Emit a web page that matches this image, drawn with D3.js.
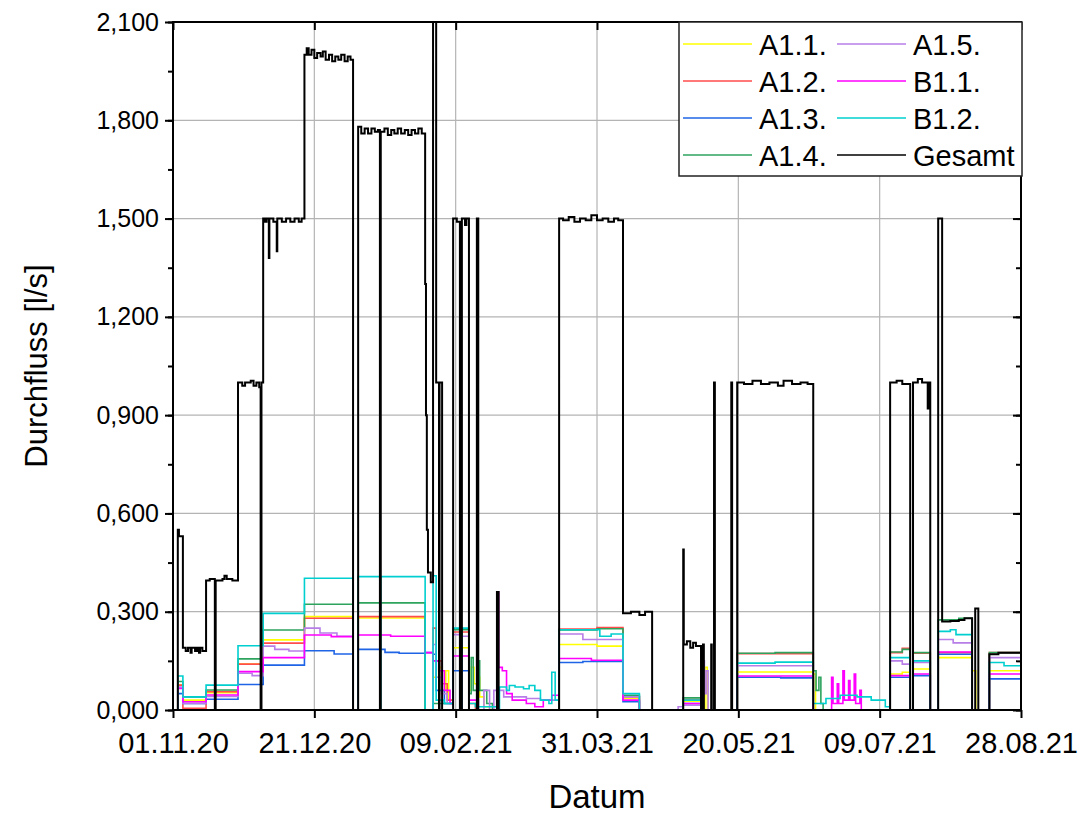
<!DOCTYPE html>
<html>
<head>
<meta charset="utf-8">
<script src="https://cdn.jsdelivr.net/npm/d3@7"></script>
<style>
  body { margin: 0; background: #fff; }
  svg text { font-family: "Liberation Sans", Arial, sans-serif; fill: #000; }
</style>
</head>
<body>
<div id="chart"></div>
<script>
// Days since 01.11.20 and flow values [l/s], stepwise
const startDate = new Date(2020, 10, 1);
const xTickDays = [0, 50, 100, 150, 200, 250, 300];
const yTicks = [0, 0.3, 0.6, 0.9, 1.2, 1.5, 1.8, 2.1];

const seriesNames = ["A1.1.", "A1.2.", "A1.3.", "A1.4.", "A1.5.", "B1.1.", "B1.2.", "Gesamt"];
const seriesColors = ["#ffff00", "#ff4d4d", "#1f64e6", "#2ea35e", "#b87ee8", "#ff00ff", "#00cfcf", "#000000"];

const a11 = [[0,0],[1.7,0.076],[3.5,0.03],[11.7,0.053],[23.0,0.14],[31.9,0.214],[46.5,0.285],[63.7,0],[65.5,0.281],[89.2,0],[92,0.1],[94,0.13],[95,0.06],[96.5,0.12],[97.5,0.03],[99.1,0.19],[101.5,0],[102.2,0.19],[104.7,0.06],[105.5,0.13],[106.5,0.08],[107.5,0.1],[108.5,0.04],[110,0.01],[112,0],[136.6,0.2],[150,0.195],[159.2,0.035],[165,0],[180.5,0.027],[186.8,0],[188.2,0.13],[189,0],[199.6,0.116],[226.5,0.11],[227.3,0],[253.7,0.11],[258,0.115],[260.8,0],[261.8,0.125],[267.9,0],[270.7,0.16],[282.7,0.12],[284,0],[288.8,0.12],[300,0.12]];
const a12 = [[0,0],[1.7,0.076],[3.5,0.005],[11.7,0.056],[23.0,0.14],[31.9,0.204],[46.5,0.28],[63.7,0],[65.5,0.285],[89.2,0],[92,0.25],[93.1,0.15],[95,0.08],[97,0.03],[99.1,0.238],[101.5,0],[102.2,0.238],[104.7,0.02],[107,0],[136.6,0.247],[150,0.252],[159.2,0.04],[165,0],[180.5,0.032],[186.8,0],[199.6,0.172],[226.5,0],[253.7,0.175],[258,0.188],[260.8,0],[261.8,0.173],[267.9,0],[270.7,0.175],[282.7,0],[288.8,0.175],[300,0.175]];
const a13 = [[0,0],[1.7,0.05],[3.5,0.02],[11.7,0.033],[23.0,0.078],[31.9,0.137],[46.5,0.181],[57,0.171],[63.7,0],[65.5,0.185],[75,0.176],[80,0.173],[89.2,0.175],[92,0.17],[93.1,0.06],[96,0.02],[99.1,0.12],[101.5,0],[102.2,0.12],[104.7,0],[136.6,0.145],[145,0.148],[159.2,0.025],[165,0],[180.5,0.02],[186.8,0],[199.6,0.1],[215,0.098],[226.5,0],[253.7,0.1],[260.8,0],[261.8,0.105],[267.9,0],[270.7,0.17],[282.7,0],[288.8,0.095],[300,0.095]];
const a14 = [[0,0],[1.7,0.087],[3.5,0.04],[11.7,0.061],[23.0,0.156],[31.9,0.244],[46.5,0.323],[63.7,0],[65.5,0.327],[89.2,0],[92,0.02],[99.1,0.245],[101.5,0],[102.2,0.245],[104.7,0.05],[105.5,0.16],[106.2,0.06],[107.5,0.15],[108.5,0.06],[111,0.02],[113,0],[136.6,0.244],[150,0.248],[159.2,0.045],[165,0],[180.5,0.037],[186.8,0],[199.6,0.173],[213,0.175],[226.5,0.12],[227.5,0.06],[228.5,0.1],[229.2,0.02],[230,0],[253.7,0.177],[258,0.185],[260.8,0],[261.8,0.175],[267.9,0],[270.7,0.275],[278,0.28],[282.7,0],[288.8,0.175],[300,0.177]];
const a15 = [[0,0],[1.7,0.07],[3.5,0.02],[11.7,0.041],[23.0,0.112],[28,0.105],[31.9,0.195],[36,0.185],[41,0.18],[46.5,0.25],[52,0.235],[58,0.225],[63.7,0],[92,0.2],[93,0.1],[95,0.05],[97,0.02],[99.1,0.23],[101.5,0],[102.2,0.225],[104.7,0],[110,0.06],[112,0],[113.5,0.06],[117,0.04],[125,0.035],[130,0.03],[136.6,0.232],[145,0.215],[159.2,0.04],[165,0],[178.7,0.01],[180.5,0.015],[186.8,0.1],[187.4,0.15],[188,0.05],[188.6,0.12],[189.3,0],[199.6,0.135],[226.5,0],[253.7,0.15],[258,0.14],[260.8,0],[261.8,0.145],[267.9,0],[270.7,0.215],[276,0.205],[282.7,0],[288.8,0.16],[300,0.155]];
const b11 = [[0,0],[1.7,0.066],[3.5,0.025],[11.7,0.046],[23.0,0.117],[31.9,0.16],[46.5,0.229],[56,0.224],[63.7,0],[65.5,0.229],[77,0.225],[89.2,0.175],[92,0.15],[94,0.12],[96,0.06],[98,0.02],[99.1,0.165],[101.5,0],[102.2,0.165],[104.7,0.03],[108,0],[114.6,0.36],[115.2,0.13],[116.5,0.12],[118,0.05],[120,0.03],[125,0.02],[128,0.01],[131,0.03],[134,0.045],[136.6,0.157],[148,0.152],[159.2,0.03],[165,0],[180.5,0.02],[186.8,0],[199.6,0.104],[226.5,0],[233,0.1],[233.5,0.02],[235,0.08],[235.5,0.02],[237,0.12],[237.5,0.03],[239,0.09],[239.5,0.03],[241,0.11],[241.5,0.02],[243,0.06],[243.5,0],[253.7,0.105],[260.8,0],[261.8,0.11],[267.9,0],[270.7,0.177],[282.7,0],[288.8,0.11],[300,0.11]];
const b12 = [[0,0],[1.7,0.104],[3.5,0.04],[11.7,0.076],[23.0,0.196],[31.9,0.295],[46.5,0.402],[63.7,0],[65.5,0.407],[73.2,0],[73.5,0.407],[89.2,0],[92.0,0.41],[93.1,0.03],[96,0.02],[99.1,0.25],[101.5,0],[102.2,0.25],[104.7,0.02],[107,0.01],[114.6,0],[115.5,0.07],[118,0.06],[119,0.075],[121,0.07],[124,0.065],[126,0.075],[128,0.06],[130,0.03],[133,0.02],[134,0.115],[135.2,0.03],[136.6,0.245],[151,0.225],[155,0.232],[159.2,0.05],[165,0],[180.5,0.03],[186.8,0],[199.6,0.143],[213,0.146],[226.5,0.02],[231,0.035],[236,0.045],[242,0.04],[247,0.03],[252,0.01],[253.7,0.16],[260.8,0],[261.8,0.15],[267.9,0],[270.7,0.24],[275,0.245],[277,0.23],[282.7,0],[288.8,0.145],[294,0.135],[300,0.13]];
const gesamt = [[0,0],[1.7,0.55],[2.1,0.53],[3.5,0.19],[4.5,0.18],[5.3,0.19],[6.2,0.175],[6.6,0.19],[7.8,0.18],[8.5,0.19],[9.2,0.175],[9.6,0.19],[10.4,0.18],[11.7,0.395],[13,0.4],[14.8,0],[15.1,0.395],[17.5,0.4],[18.2,0.41],[19,0.4],[21,0.395],[23.0,1.0],[24.5,0.99],[25.5,1.0],[27.5,1.005],[28.5,0.99],[29.5,1.0],[30.5,0.985],[31.0,0],[31.3,1.0],[31.9,1.5],[32.6,1.49],[33.1,1.5],[33.9,1.38],[34.1,1.5],[35.5,1.49],[36.7,1.4],[36.9,1.5],[38.5,1.49],[40,1.5],[41.5,1.49],[43,1.5],[44.5,1.49],[45.5,1.5],[46.5,2.0],[47.3,2.02],[48,2.0],[49,2.015],[50,1.99],[51,2.005],[52.2,1.995],[53,2.01],[54,1.985],[55.2,2.0],[56.3,1.98],[57.4,1.995],[58.5,1.985],[59.5,2.0],[60.7,1.98],[61.8,1.995],[62.8,1.985],[63.7,0],[65.5,1.78],[66.6,1.76],[67.8,1.775],[69,1.76],[70.2,1.775],[71.4,1.765],[72.5,1.77],[73.2,0],[73.5,1.765],[74.8,1.775],[76,1.755],[77.2,1.77],[78.3,1.76],[79.5,1.775],[80.7,1.76],[82,1.77],[83.2,1.755],[84.4,1.77],[85.6,1.76],[86.8,1.775],[88,1.76],[89.2,1.3],[89.5,0.9],[89.8,0.55],[90.2,0.42],[91.2,0.39],[92.0,2.3],[93.1,1.0],[94.1,0],[94.3,1.0],[95.2,0],[99.1,1.5],[100.4,1.49],[101.5,0],[102.2,1.5],[103.3,1.48],[103.8,1.5],[104.7,0],[107.5,1.5],[108.0,0],[114.6,0.36],[115.2,0],[136.6,1.5],[138,1.495],[140,1.505],[142,1.49],[144,1.5],[146,1.495],[148,1.51],[150,1.495],[152,1.5],[154,1.49],[156,1.5],[157.5,1.495],[159.2,0.295],[162,0.3],[165,0.29],[167,0.3],[169.5,0],[180.5,0.49],[180.7,0.2],[181.8,0.21],[183,0.19],[184,0.205],[185,0.195],[186.8,0],[187.5,0.2],[187.8,0],[190.4,0.2],[190.6,0],[191.4,1.0],[191.7,0],[197.5,1.0],[197.8,0],[199.6,1.0],[202,0.995],[205,1.005],[208,0.995],[211,1.0],[214,0.99],[216,1.005],[219,0.995],[222,1.0],[224.5,0.995],[226.5,0],[253.7,1.0],[256,1.005],[258,0.995],[260.8,0],[261.8,1.0],[263.5,1.01],[265,1.0],[267.0,0.92],[267.2,1.0],[267.9,0],[270.7,1.5],[272.1,0.27],[275,0.272],[278,0.275],[280,0.28],[282.7,0],[283.8,0.31],[284.9,0],[288.8,0.17],[292,0.175],[296,0.175],[300,0.175]];

const allSeries = [a11, a12, a13, a14, a15, b11, b12, gesamt];

// Layout
const W = 1082, H = 816;
const mLeft = 173, mRight = 1021, mTop = 22, mBottom = 710;

const svg = d3.select("#chart").append("svg")
    .attr("width", W)
    .attr("height", H);

const toDate = d => new Date(startDate.getTime() + d * 86400000);

const x = d3.scaleTime()
    .domain([startDate, toDate(300)])
    .range([mLeft, mRight]);

const y = d3.scaleLinear()
    .domain([0, 2.1])
    .range([mBottom, mTop]);

svg.append("defs").append("clipPath").attr("id", "plot-clip")
    .append("rect")
    .attr("x", mLeft).attr("y", mTop)
    .attr("width", mRight - mLeft).attr("height", mBottom - mTop);

// grid lines
const grid = svg.append("g").attr("stroke", "#b4b4b4").attr("stroke-width", 1.2);
grid.selectAll(".gx").data(xTickDays.slice(1, -1)).enter().append("line")
    .attr("x1", d => x(toDate(d))).attr("x2", d => x(toDate(d)))
    .attr("y1", mTop).attr("y2", mBottom);
grid.selectAll(".gy").data(yTicks.slice(1, -1)).enter().append("line")
    .attr("x1", mLeft).attr("x2", mRight)
    .attr("y1", d => y(d)).attr("y2", d => y(d));

// series
const line = d3.line()
    .x(d => x(toDate(d[0])))
    .y(d => y(d[1]))
    .curve(d3.curveStepAfter);

const plot = svg.append("g").attr("clip-path", "url(#plot-clip)");
allSeries.forEach((s, i) => {
    plot.append("path")
        .datum(s)
        .attr("fill", "none")
        .attr("stroke", seriesColors[i])
        .attr("stroke-width", i === 7 ? 2 : 1.6)
        .attr("d", line);
});

// axes
const fmtY = d => d.toFixed(3).replace(".", ",");
const fmtX = d3.timeFormat("%d.%m.%y");
const minorY = d3.range(0, 2.1001, 0.15);

const xAxis = svg.append("g")
    .attr("transform", `translate(0,${mBottom})`)
    .call(d3.axisBottom(x).tickValues(xTickDays.map(toDate)).tickFormat(fmtX).tickSize(8).tickPadding(14));
const yAxis = svg.append("g")
    .attr("transform", `translate(${mLeft},0)`)
    .call(d3.axisLeft(y).tickValues(yTicks).tickFormat(fmtY).tickSize(8).tickPadding(6));
svg.append("g")
    .attr("transform", `translate(${mLeft},0)`)
    .call(d3.axisLeft(y).tickValues(minorY).tickFormat("").tickSize(5));
svg.append("g")
    .attr("transform", `translate(0,${mTop})`)
    .call(d3.axisTop(x).tickValues(xTickDays.map(toDate)).tickFormat("").tickSize(-8));
svg.append("g")
    .attr("transform", `translate(${mRight},0)`)
    .call(d3.axisRight(y).tickValues(yTicks).tickFormat("").tickSize(-8));
svg.append("g")
    .attr("transform", `translate(${mRight},0)`)
    .call(d3.axisRight(y).tickValues(minorY).tickFormat("").tickSize(-5));

svg.selectAll(".domain").remove();
svg.selectAll(".tick line").attr("stroke", "#000").attr("stroke-width", 2);
xAxis.selectAll("text").style("font-size", "29px");
yAxis.selectAll("text").style("font-size", "25px");

// frame
svg.append("rect")
    .attr("x", mLeft).attr("y", mTop)
    .attr("width", mRight - mLeft).attr("height", mBottom - mTop)
    .attr("fill", "none").attr("stroke", "#000").attr("stroke-width", 2);

// axis titles
svg.append("text")
    .attr("x", (mLeft + mRight) / 2).attr("y", 808)
    .attr("text-anchor", "middle")
    .style("font-size", "33px")
    .text("Datum");
svg.append("text")
    .attr("transform", `translate(47,${(mTop + mBottom) / 2}) rotate(-90)`)
    .attr("text-anchor", "middle")
    .style("font-size", "31px")
    .text("Durchfluss [l/s]");

// legend
const legend = svg.append("g");
legend.append("rect")
    .attr("x", 679).attr("y", mTop)
    .attr("width", 343).attr("height", 154)
    .attr("fill", "#fff").attr("stroke", "#222").attr("stroke-width", 1.5);
const rowY = [44, 81, 118, 155];
seriesNames.forEach((name, i) => {
    const col = Math.floor(i / 4), row = i % 4;
    const lx = col === 0 ? 683 : 837;
    const ly = rowY[row];
    legend.append("line")
        .attr("x1", lx).attr("x2", lx + 69)
        .attr("y1", ly).attr("y2", ly)
        .attr("stroke", seriesColors[i]).attr("stroke-width", 1.6);
    legend.append("text")
        .attr("x", lx + 76).attr("y", ly + 11)
        .style("font-size", "29px")
        .text(name);
});
</script>
</body>
</html>
